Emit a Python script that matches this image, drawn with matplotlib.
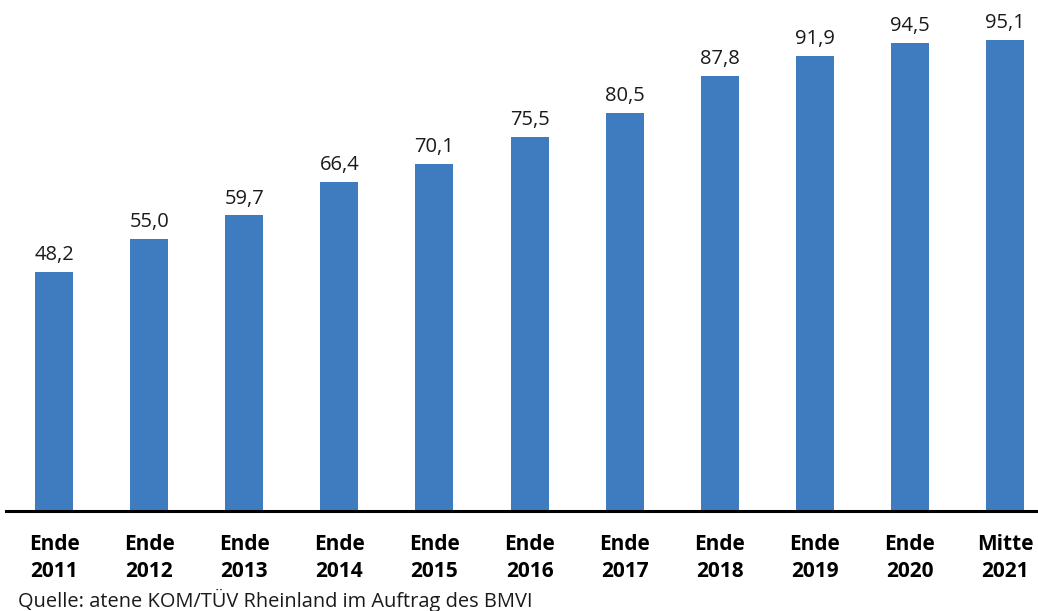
import matplotlib
matplotlib.use("Agg")
import matplotlib.pyplot as plt

categories = ["Ende\n2011", "Ende\n2012", "Ende\n2013", "Ende\n2014", "Ende\n2015",
              "Ende\n2016", "Ende\n2017", "Ende\n2018", "Ende\n2019", "Ende\n2020", "Mitte\n2021"]
values = [48.2, 55.0, 59.7, 66.4, 70.1, 75.5, 80.5, 87.8, 91.9, 94.5, 95.1]
value_labels = ["48,2", "55,0", "59,7", "66,4", "70,1", "75,5", "80,5", "87,8", "91,9", "94,5", "95,1"]
source = "Quelle: atene KOM/TÜV Rheinland im Auftrag des BMVI"

plt.rcParams['font.family'] = ['Open Sans', 'DejaVu Sans']

W, H = 1038, 611
fig = plt.figure(figsize=(W / 100, H / 100), dpi=100)
ax = fig.add_axes([6 / W, (H - 511) / H, 1030 / W, 495 / H])

x = list(range(len(values)))
ax.bar(x, values, width=0.4, color="#3F7CBF")
for xi, v, lab in zip(x, values, value_labels):
    ax.annotate(lab, (xi, v), xytext=(0, 5), textcoords="offset points",
                ha="center", va="bottom", fontsize=14.5, color="#1a1a1a")

ax.set_xlim(-0.505, 10.325)
ax.set_ylim(0, 100)
ax.set_xticks(x)
ax.set_xticklabels(categories, fontsize=15, fontweight="bold", linespacing=1.4)
ax.tick_params(axis="x", length=0, pad=16.5)
ax.set_yticks([])
for s in ["top", "right", "left"]:
    ax.spines[s].set_visible(False)
ax.spines["bottom"].set_linewidth(2.2)
ax.spines["bottom"].set_color("black")

fig.text(18 / W, 1 - 600 / H, source, fontsize=14.4, ha="left", va="center", color="#1a1a1a")

fig.savefig("out.png", dpi=100)
